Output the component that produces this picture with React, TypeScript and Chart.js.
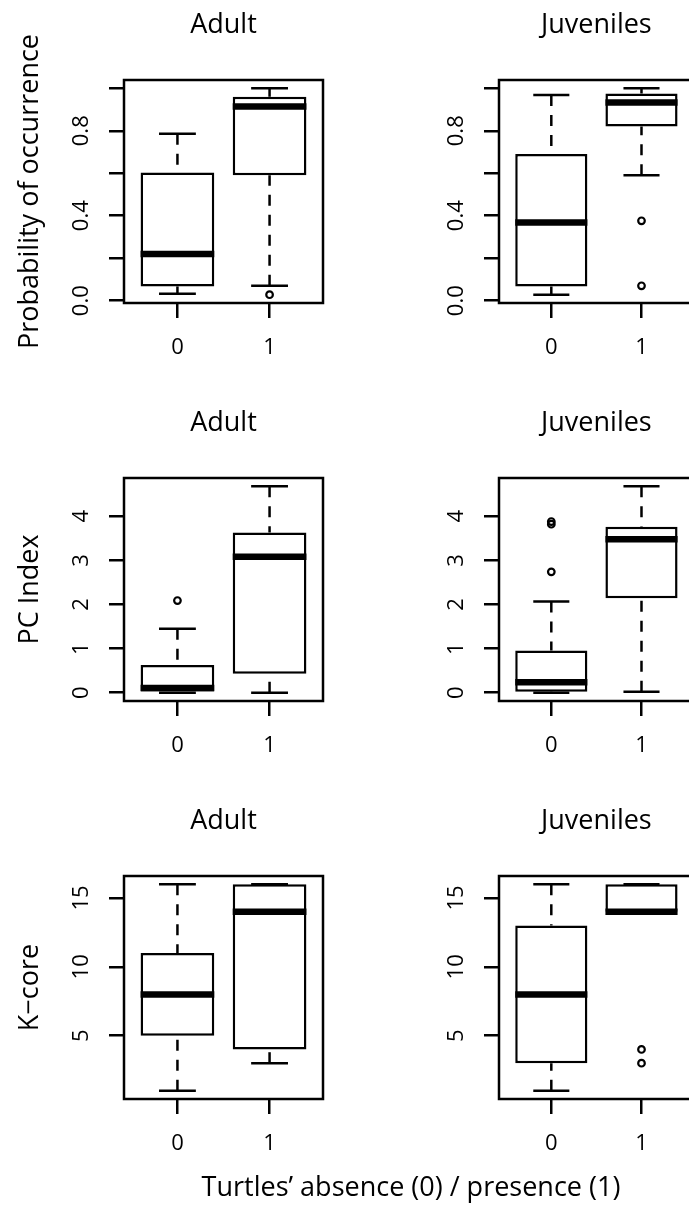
import React, { useEffect, useRef } from 'react';
import { Chart, registerables } from 'chart.js';

Chart.register(...registerables);

const FONT = '"Open Sans", "Noto Sans", sans-serif';
Chart.defaults.font.family = FONT;
Chart.defaults.color = '#000';

// x axis: two groups (absence / presence)
const groupPositions = [1, 2];
const groupLabels = ['0', '1'];
const xRange = [0.42, 2.58];

// five-number summaries: [lower whisker, Q1, median, Q3, upper whisker]
const probAdultAbsent = [0.032, 0.067, 0.22, 0.604, 0.786];
const probAdultPresent = [0.07, 0.59, 0.914, 0.96, 1.0];
const probAdultOutliers = [[], [0.028]];
const probJuvAbsent = [0.028, 0.067, 0.368, 0.69, 0.968];
const probJuvPresent = [0.59, 0.82, 0.933, 0.976, 1.0];
const probJuvOutliers = [[], [0.376, 0.07]];

const pcAdultAbsent = [0, 0, 0.11, 0.63, 1.45];
const pcAdultPresent = [0, 0.43, 3.08, 3.63, 4.68];
const pcAdultOutliers = [[2.09], []];
const pcJuvAbsent = [0, 0.02, 0.24, 0.96, 2.07];
const pcJuvPresent = [0.02, 2.14, 3.48, 3.76, 4.68];
const pcJuvOutliers = [[2.74, 3.82, 3.88], []];

const kAdultAbsent = [1, 5, 8, 11, 16];
const kAdultPresent = [3, 4, 14, 16, 16];
const kAdultOutliers = [[], []];
const kJuvAbsent = [1, 3, 8, 13, 16];
const kJuvPresent = [14, 14, 14, 16, 16];
const kJuvOutliers = [[], [4, 3]];

// y axes
const probRange = [-0.011, 1.039];
const probTicks = [0, 0.2, 0.4, 0.6, 0.8, 1.0];
const probTickLabels = ['0.0', '', '0.4', '', '0.8', ''];
const pcRange = [-0.187, 4.867];
const pcTicks = [0, 1, 2, 3, 4];
const pcTickLabels = ['0', '1', '2', '3', '4'];
const kRange = [0.4, 16.6];
const kTicks = [5, 10, 15];
const kTickLabels = ['5', '10', '15'];

const columnTitles = ['Adult', 'Juveniles'];
const rowTitles = ['Probability of occurrence', 'PC Index', 'K\u2212core'];
const bottomTitle = 'Turtles\u2019 absence (0) / presence (1)';

type Panel = {
  row: number;
  col: number;
  stats: number[][];
  outliers: number[][];
  range: number[];
  ticks: number[];
  tickLabels: string[];
};

const panels: Panel[] = [
  { row: 0, col: 0, stats: [probAdultAbsent, probAdultPresent], outliers: probAdultOutliers, range: probRange, ticks: probTicks, tickLabels: probTickLabels },
  { row: 0, col: 1, stats: [probJuvAbsent, probJuvPresent], outliers: probJuvOutliers, range: probRange, ticks: probTicks, tickLabels: probTickLabels },
  { row: 1, col: 0, stats: [pcAdultAbsent, pcAdultPresent], outliers: pcAdultOutliers, range: pcRange, ticks: pcTicks, tickLabels: pcTickLabels },
  { row: 1, col: 1, stats: [pcJuvAbsent, pcJuvPresent], outliers: pcJuvOutliers, range: pcRange, ticks: pcTicks, tickLabels: pcTickLabels },
  { row: 2, col: 0, stats: [kAdultAbsent, kAdultPresent], outliers: kAdultOutliers, range: kRange, ticks: kTicks, tickLabels: kTickLabels },
  { row: 2, col: 1, stats: [kJuvAbsent, kJuvPresent], outliers: kJuvOutliers, range: kRange, ticks: kTicks, tickLabels: kTickLabels },
];

// panel geometry
const ROW_STRIDE = 398;
const CANVAS_H = 373;
const COL_LEFT = [0, 340];
const CANVAS_W = [340, 360];
const AXIS_W = [124, 159];
const PAD_RIGHT = [17, 3];
const X_AXIS_H = 70;
const TICK_LEN = 15;
const TICK_FONT = 22;
const TITLE_FONT = 27;
const LINE_W = 2.5;

const framePlugin = {
  id: 'frame',
  afterDatasetsDraw(chart: any) {
    const { ctx, chartArea: a } = chart;
    ctx.save();
    ctx.lineWidth = LINE_W;
    ctx.strokeStyle = '#000';
    ctx.strokeRect(a.left, a.top, a.right - a.left, a.bottom - a.top);
    ctx.restore();
  },
};

function widestLabel(labels: string[]) {
  const c = document.createElement('canvas').getContext('2d')!;
  c.font = `normal ${TICK_FONT}px ${FONT}`;
  return Math.max(0, ...labels.map((l) => c.measureText(l).width));
}

function segment(points: { x: number; y: number }[], width: number, dash: number[], order: number) {
  return {
    type: 'line',
    data: points,
    borderColor: '#000',
    borderWidth: width,
    borderDash: dash,
    borderCapStyle: 'butt',
    pointRadius: 0,
    showLine: true,
    fill: false,
    tension: 0,
    order,
  };
}

function buildDatasets(p: Panel) {
  const datasets: any[] = [];
  p.stats.forEach((s, i) => {
    const x = groupPositions[i];
    // dashed whiskers run from the whisker end toward the box
    datasets.push(segment([{ x, y: s[0] }, { x, y: s[1] }], LINE_W, [11, 9], 3));
    datasets.push(segment([{ x, y: s[4] }, { x, y: s[3] }], LINE_W, [11, 9], 3));
    // staples
    datasets.push(segment([{ x: x - 0.2, y: s[0] }, { x: x + 0.2, y: s[0] }], LINE_W, [], 3));
    datasets.push(segment([{ x: x - 0.2, y: s[4] }, { x: x + 0.2, y: s[4] }], LINE_W, [], 3));
  });
  datasets.push({
    type: 'bar',
    data: p.stats.map((s, i) => ({ x: groupPositions[i], y: [s[1], s[3]] })),
    backgroundColor: '#fff',
    borderColor: '#000',
    borderWidth: LINE_W,
    borderSkipped: false,
    barPercentage: 0.8,
    categoryPercentage: 1,
    order: 2,
  });
  p.stats.forEach((s, i) => {
    const x = groupPositions[i];
    datasets.push(segment([{ x: x - 0.4, y: s[2] }, { x: x + 0.4, y: s[2] }], 6.5, [], 1));
  });
  datasets.push({
    type: 'scatter',
    data: p.outliers.flatMap((o, i) => o.map((v) => ({ x: groupPositions[i], y: v }))),
    pointStyle: 'circle',
    pointRadius: 3.3,
    pointBorderWidth: 2.2,
    pointBorderColor: '#000',
    pointBackgroundColor: 'rgba(0,0,0,0)',
    showLine: false,
    order: 0,
  });
  return datasets;
}

function BoxPanel({ p }: { p: Panel }) {
  const ref = useRef<HTMLCanvasElement | null>(null);
  useEffect(() => {
    if (!ref.current) return;
    const tickGrid = {
      display: true,
      drawOnChartArea: false,
      drawTicks: true,
      tickLength: TICK_LEN,
      lineWidth: LINE_W,
      color: '#000',
      offset: false,
    };
    const yPad = 26.8 - widestLabel(p.tickLabels) / 2;
    const chart = new Chart(ref.current, {
      type: 'scatter',
      data: { datasets: buildDatasets(p) as any },
      plugins: [framePlugin],
      options: {
        animation: false,
        responsive: false,
        events: [],
        layout: { padding: { top: 9, left: 0, right: PAD_RIGHT[p.col], bottom: 0 } },
        plugins: {
          legend: { display: false },
          tooltip: { enabled: false },
          title: {
            display: true,
            text: columnTitles[p.col],
            fullSize: false,
            color: '#000',
            font: { size: TITLE_FONT, weight: 'normal', family: FONT },
            padding: { top: 0, bottom: 38.6 },
          },
        },
        scales: {
          x: {
            type: 'linear',
            min: xRange[0],
            max: xRange[1],
            bounds: 'data',
            offset: false,
            afterBuildTicks: (s: any) => {
              s.ticks = groupPositions.map((v) => ({ value: v }));
            },
            afterFit: (s: any) => {
              s.height = X_AXIS_H;
            },
            ticks: {
              autoSkip: false,
              minRotation: 0,
              maxRotation: 0,
              padding: 16.5,
              color: '#000',
              font: { size: TICK_FONT, family: FONT },
              callback: (_v: any, i: number) => groupLabels[i],
            },
            grid: tickGrid,
            border: { display: false },
          },
          y: {
            type: 'linear',
            min: p.range[0],
            max: p.range[1],
            bounds: 'data',
            afterBuildTicks: (s: any) => {
              s.ticks = p.ticks.map((v) => ({ value: v }));
            },
            afterFit: (s: any) => {
              s.width = AXIS_W[p.col];
            },
            ticks: {
              autoSkip: false,
              minRotation: 90,
              maxRotation: 90,
              crossAlign: 'center',
              padding: yPad,
              color: '#000',
              font: { size: TICK_FONT, family: FONT },
              callback: (_v: any, i: number) => p.tickLabels[i],
            },
            grid: tickGrid,
            border: { display: false },
            title: {
              display: p.col === 0,
              text: rowTitles[p.row],
              color: '#000',
              font: { size: TITLE_FONT, family: FONT },
              padding: { top: 14.5, bottom: 0 },
            },
          },
        },
      } as any,
    });
    return () => chart.destroy();
  }, [p]);

  return (
    <canvas
      ref={ref}
      width={CANVAS_W[p.col]}
      height={CANVAS_H}
      style={{
        position: 'absolute',
        left: COL_LEFT[p.col],
        top: p.row * ROW_STRIDE,
        width: CANVAS_W[p.col],
        height: CANVAS_H,
      }}
    />
  );
}

export default function App() {
  return (
    <div
      style={{
        position: 'absolute',
        left: 0,
        top: 0,
        width: 689,
        height: 1210,
        overflow: 'hidden',
        background: '#fff',
      }}
    >
      {panels.map((p) => (
        <BoxPanel key={`${p.row}-${p.col}`} p={p} />
      ))}
      <div
        style={{
          position: 'absolute',
          left: 111,
          top: 1172,
          width: 600,
          textAlign: 'center',
          fontFamily: FONT,
          fontSize: 27,
          lineHeight: '27px',
          color: '#000',
          whiteSpace: 'nowrap',
        }}
      >
        {bottomTitle}
      </div>
    </div>
  );
}
